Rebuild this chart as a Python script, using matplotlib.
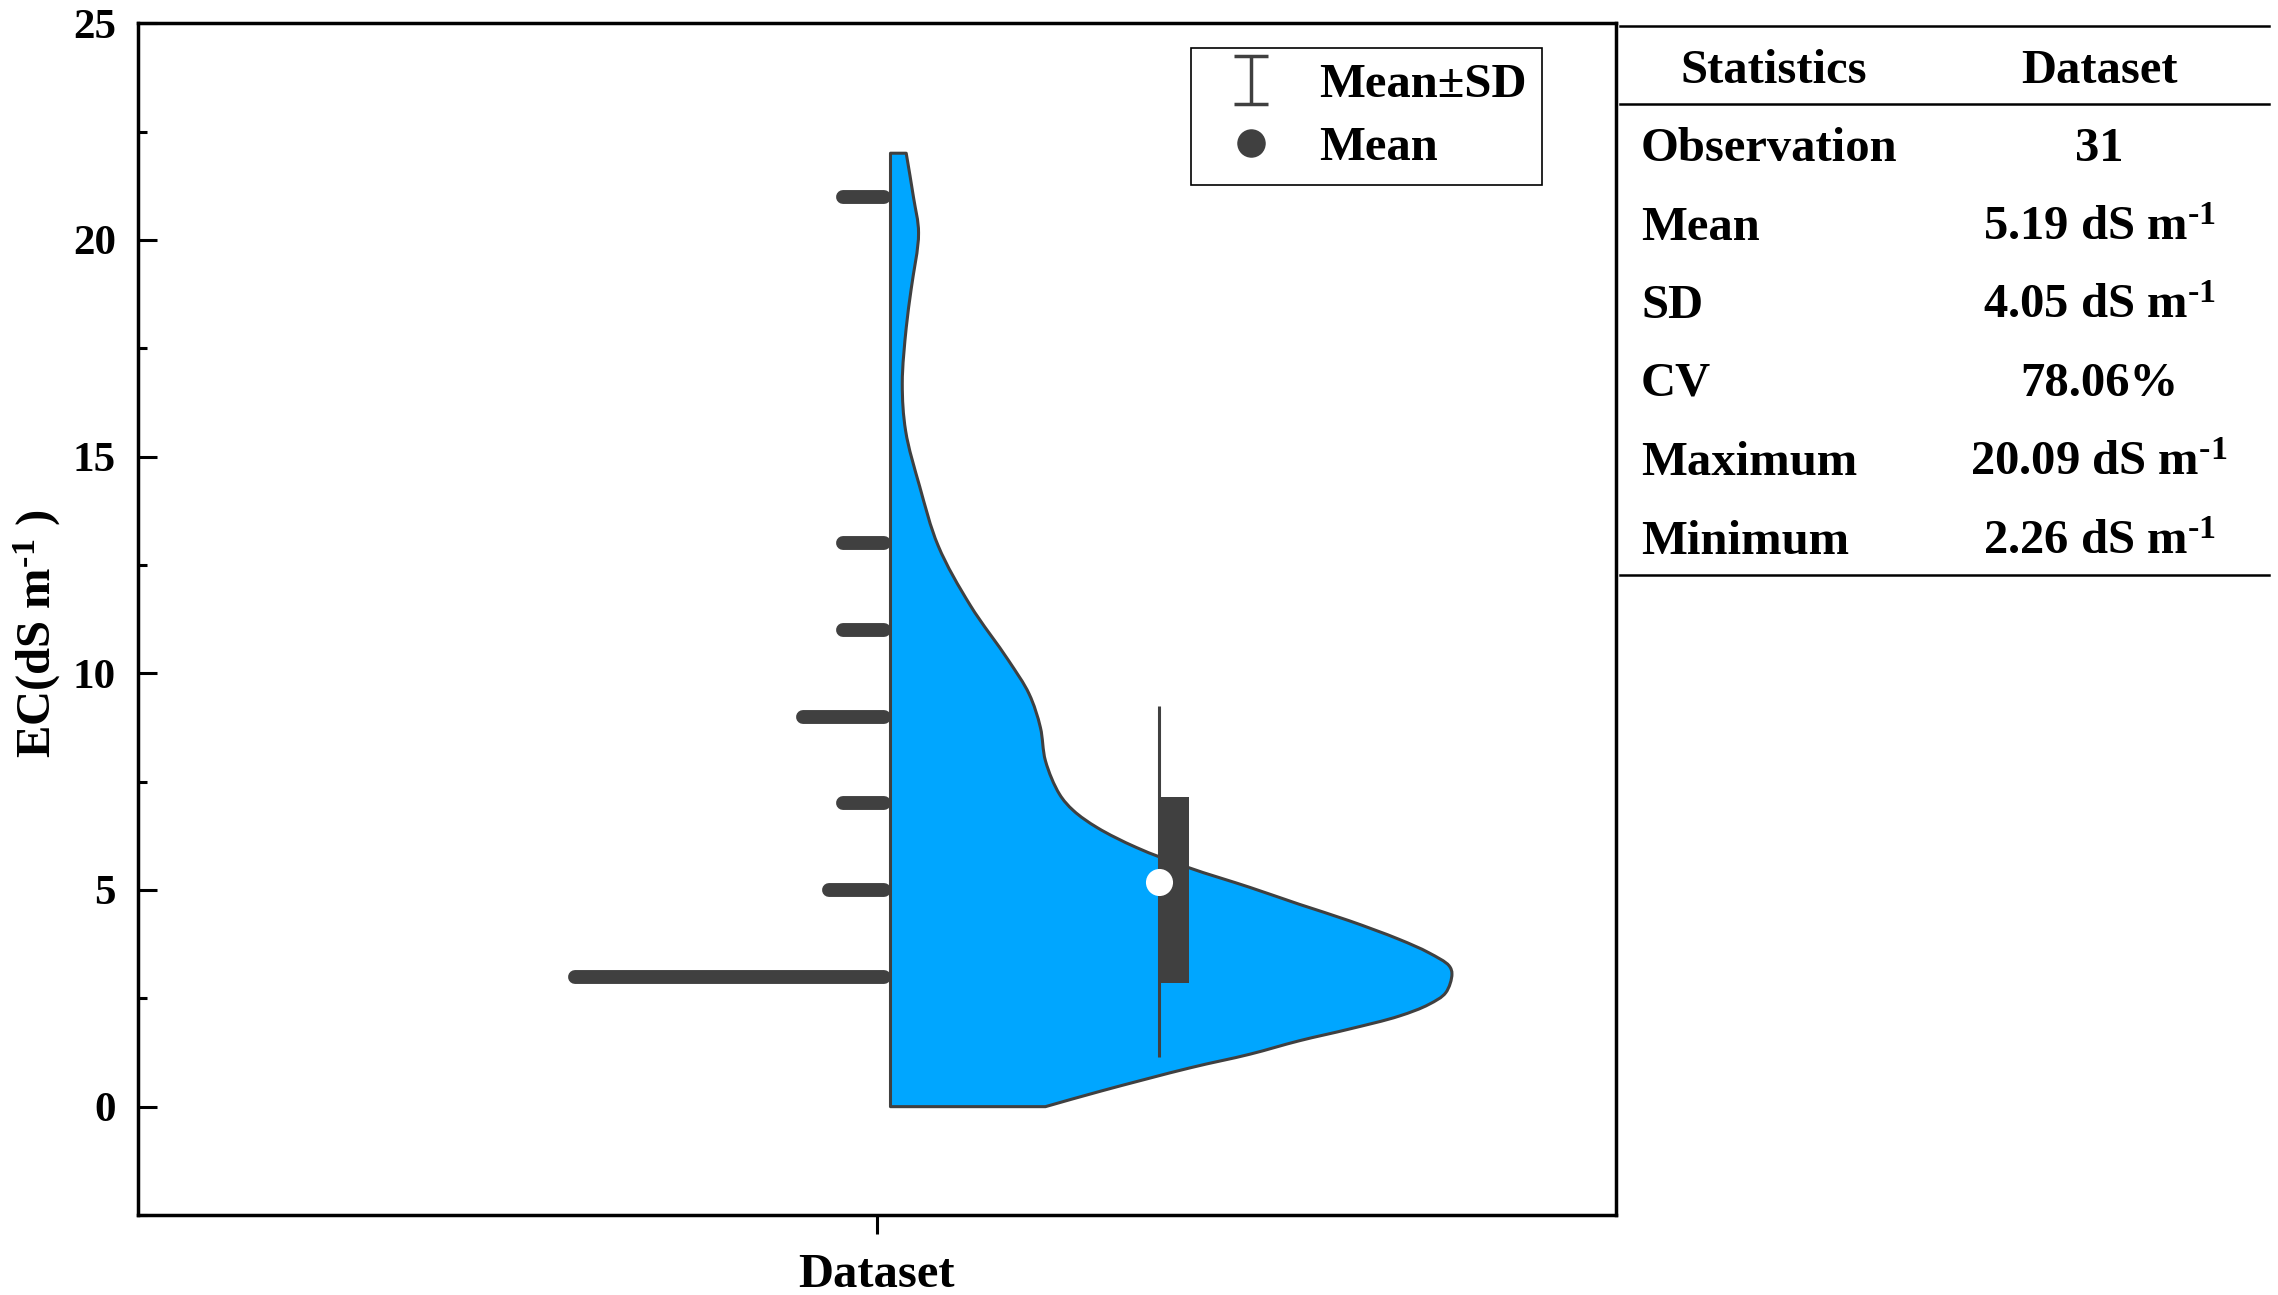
import numpy as np
import matplotlib
matplotlib.use('Agg')
import matplotlib.pyplot as plt
from matplotlib.lines import Line2D
from matplotlib.path import Path
from matplotlib.patches import PathPatch
from matplotlib.ticker import MultipleLocator

# values
category = 'Dataset'

# histogram beside the violin (bin centres and counts, 31 observations)
hist_centers = [3, 5, 7, 9, 11, 13, 21]
hist_counts = [21, 2, 1, 4, 1, 1, 1]

# half-violin outline: EC level and relative density (1 = widest point)
kde_y = [0.0, 0.36, 0.90, 1.21, 1.52, 1.79, 2.09, 2.36, 2.63, 3.06, 3.25, 3.55,
         3.86, 4.29, 4.67, 5.06, 5.52, 5.98, 6.44, 6.83, 7.21, 7.98, 8.75, 9.52,
         10.3, 11.57, 12.94, 14.31, 15.59, 16.69, 17.97, 18.88, 20.16, 20.98, 22.0]
kde_density = [0.276, 0.375, 0.535, 0.640, 0.728, 0.817, 0.906, 0.959, 0.989, 1.0,
               0.995, 0.959, 0.906, 0.817, 0.728, 0.640, 0.530, 0.438, 0.368, 0.326,
               0.301, 0.276, 0.267, 0.247, 0.210, 0.142, 0.085, 0.052, 0.027, 0.021,
               0.028, 0.037, 0.050, 0.041, 0.028]

mean_ec = 5.19
sd_ec = 4.05
q1_ec = 2.85
q3_ec = 7.15

stat_names = ['Observation', 'Mean', 'SD', 'CV', 'Maximum', 'Minimum']
unit = r' dS m$^{\text{-}1}$'
stat_values = ['31', '5.19' + unit, '4.05' + unit, '78.06%', '20.09' + unit, '2.26' + unit]

dark = '#404040'
blue = '#00A6FF'

plt.rcParams.update({
    'font.family': 'Liberation Serif',
    'font.weight': 'bold',
    'axes.labelweight': 'bold',
    'mathtext.fontset': 'custom',
    'mathtext.rm': 'Liberation Serif:bold',
    'mathtext.bf': 'Liberation Serif:bold',
    'mathtext.it': 'Liberation Serif:bold:italic',
    'mathtext.default': 'rm',
})


def smooth_path(px, py):
    # centripetal Catmull-Rom through the read points, as cubic Bezier pieces
    p = np.column_stack([px, py])
    p = np.vstack([2 * p[0] - p[1], p, 2 * p[-1] - p[-2]])
    t = np.concatenate([[0], np.cumsum(np.linalg.norm(np.diff(p, axis=0), axis=1) ** 0.5)])
    verts = [p[1]]
    for i in range(1, len(p) - 2):
        p0, p1, p2, p3 = p[i - 1], p[i], p[i + 1], p[i + 2]
        t0, t1, t2, t3 = t[i - 1], t[i], t[i + 1], t[i + 2]
        m1 = (t2 - t1) * ((p1 - p0) / (t1 - t0) - (p2 - p0) / (t2 - t0) + (p2 - p1) / (t2 - t1))
        m2 = (t2 - t1) * ((p2 - p1) / (t2 - t1) - (p3 - p1) / (t3 - t1) + (p3 - p2) / (t3 - t2))
        verts += [p1 + m1 / 3, p2 - m2 / 3, p2]
    return np.array(verts)


W, H = 2278, 1295
fig = plt.figure(figsize=(W / 100, H / 100), dpi=100)
ax = fig.add_axes([138 / W, 1 - 1215 / H, (1615.5 - 138) / W, (1215 - 23.2) / H])
ax.set_xlim(0.5, 1.5)
ax.set_ylim(-2.5, 25)

xc = 1.0
base = xc + 0.0093
max_w = 0.380

# half violin (smoothed in a pixel-like space, then back to data units)
sx = 1477.0
sy = 1192.0 / 27.5
dens = np.array(kde_density)
vy = np.array(kde_y)
curve = smooth_path(max_w * dens * sx, vy * sy)
curve = np.column_stack([base + curve[:, 0] / sx, curve[:, 1] / sy])
verts = [(base, vy[0])] + [tuple(v) for v in curve] + [(base, vy[-1]), (base, vy[0])]
codes = [Path.MOVETO, Path.LINETO] + [Path.CURVE4] * (len(curve) - 1) + [Path.LINETO, Path.CLOSEPOLY]
ax.add_patch(PathPatch(Path(verts, codes), facecolor=blue, edgecolor=dark, lw=2.2,
                       joinstyle='round', zorder=2))

# histogram lines to the left
cap = 0.0047
for yc, n in zip(hist_centers, hist_counts):
    x1 = base - cap
    x0 = x1 - (0.0186 + 0.00905 * n)
    ax.plot([x0, x1], [yc, yc], color=dark, lw=10, solid_capstyle='round', zorder=3)

# box (quartiles), mean +- SD line and mean point
xw = xc + 0.1907
ax.bar(xw, q3_ec - q1_ec, width=0.0203, bottom=q1_ec, align='edge', color=dark, zorder=4)
ax.vlines(xw, mean_ec - sd_ec, mean_ec + sd_ec, color=dark, lw=2.2, zorder=4)
ax.plot([xw], [mean_ec], 'o', color='white', ms=19.5, mec='none', zorder=5)

# legend
h_sd = ax.errorbar([np.nan], [np.nan], yerr=[1.0], fmt='none', ecolor=dark,
                   elinewidth=2.5, capsize=12, capthick=2.5)
h_mean = Line2D([], [], ls='none', marker='o', ms=19.5, color=dark)
leg = ax.legend([h_sd, h_mean], ['Mean±SD', 'Mean'], loc='upper right',
                bbox_to_anchor=(0.950, 0.979), borderaxespad=0, fancybox=False,
                edgecolor='black', framealpha=1, fontsize=35, handlelength=1.9,
                handletextpad=0.45, borderpad=0.3, labelspacing=0.4)
leg.get_frame().set_linewidth(1.2)

# axes styling
ax.set_yticks(np.arange(0, 26, 5))
ax.yaxis.set_minor_locator(MultipleLocator(2.5))
ax.set_xticks([xc])
ax.set_xticklabels([category])
ax.tick_params(axis='y', which='major', direction='in', length=13.7, width=2.2,
               labelsize=31, pad=16)
ax.tick_params(axis='y', which='minor', direction='in', length=6.5, width=2.2)
ax.tick_params(axis='x', direction='out', length=13.4, width=2.2, labelsize=35, pad=14)
for s in ax.spines.values():
    s.set_linewidth(2.5)
ax.set_ylabel(r'EC(dS m$^{\text{-}1}$ )', fontsize=35)
ax.yaxis.set_label_coords(-0.051, 0.488)

# statistics table on the right
tx0, tx1 = 1620 / W, 2269 / W
for yy in [25.7, 103.6, 575.3]:
    fig.add_artist(Line2D([tx0, tx1], [1 - yy / H, 1 - yy / H], color='black',
                          lw=1.8, transform=fig.transFigure))
cap_half = 16
fig.text(1774 / W, 1 - (67 + cap_half) / H, 'Statistics', ha='center', va='baseline', fontsize=35)
fig.text(2099 / W, 1 - (67 + cap_half) / H, category, ha='center', va='baseline', fontsize=35)
row_y = [145, 224, 302, 380, 459, 537.5]
for name, val, yy in zip(stat_names, stat_values, row_y):
    fig.text(1641 / W, 1 - (yy + cap_half) / H, name, ha='left', va='baseline', fontsize=35)
    fig.text(2099 / W, 1 - (yy + cap_half) / H, val, ha='center', va='baseline', fontsize=35)

fig.savefig('out.png', dpi=100)
